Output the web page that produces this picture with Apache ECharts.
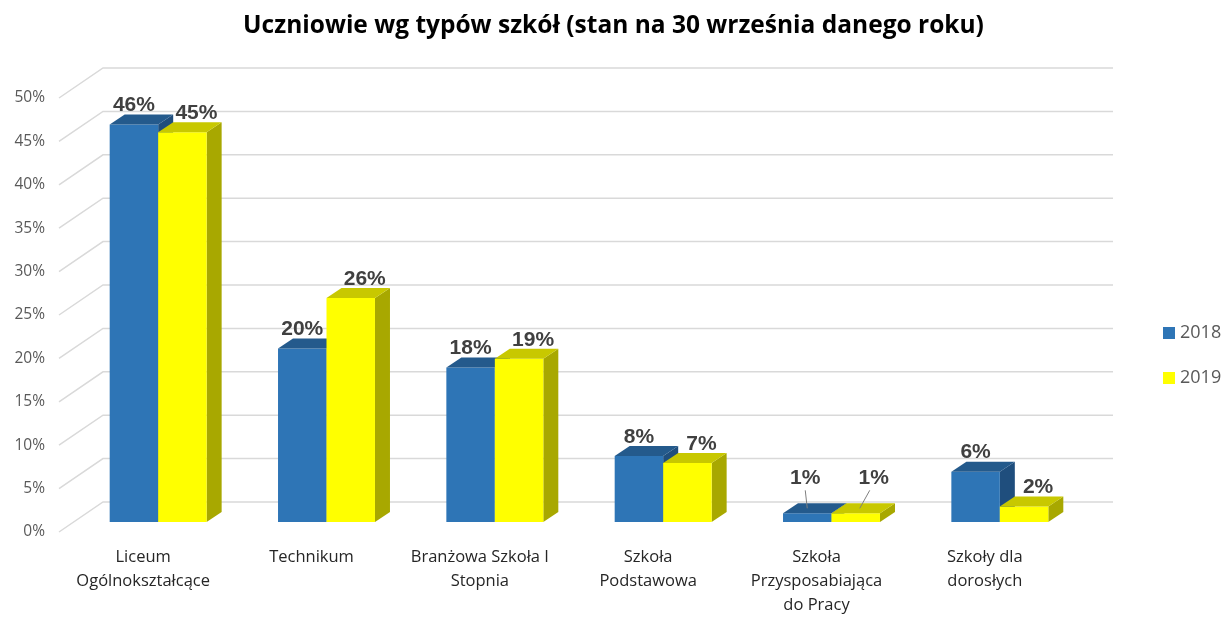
<!DOCTYPE html>
<html>
<head>
<meta charset="utf-8">
<title>Uczniowie wg typów szkół</title>
<script src="https://cdn.jsdelivr.net/npm/echarts@6/dist/echarts.min.js"></script>
<style>
  html, body { margin: 0; padding: 0; background: #fff; }
  #chart { width: 1227px; height: 617px; }
</style>
</head>
<body>
<div id="chart"></div>
<script>
// ---- dane ----
var categories = [
  'Liceum\nOgólnokształcące',
  'Technikum',
  'Branżowa Szkoła I\nStopnia',
  'Szkoła\nPodstawowa',
  'Szkoła\nPrzysposabiająca\ndo Pracy',
  'Szkoły dla\ndorosłych'
];
var years = ['2018', '2019'];
var values2018 = [45.8, 20, 17.8, 7.6, 1.0, 5.8];
var values2019 = [44.9, 25.8, 18.8, 6.8, 1.0, 1.8];
var yTicks = [0, 5, 10, 15, 20, 25, 30, 35, 40, 45, 50];

// ---- wygląd 3D ----
var DEPTH_X = 44, DEPTH_Y = -30;          // głębokość całej ściany
var BAR_DX = 15, BAR_DY = -10;            // głębokość słupka
var faces = [
  { front: '#2E75B6', top: '#245A8C', side: '#1F4E7D', labelDx: 0 },
  { front: '#FFFF00', top: '#C8C800', side: '#A8A800', labelDx: 14 }
];

function gridRender(params, api) {
  var cs = params.coordSys;
  var y = api.coord([0, api.value(0)])[1];
  return {
    type: 'polyline',
    shape: { points: [[cs.x, y], [cs.x + DEPTH_X, y + DEPTH_Y], [cs.x + cs.width + DEPTH_X, y + DEPTH_Y]] },
    style: { stroke: '#D9D9D9', lineWidth: 1.5, fill: null },
    silent: true
  };
}

function makeBarRender(s) {
  var f = faces[s];
  return function (params, api) {
    var cat = api.value(0), val = api.value(1);
    var base = api.coord([cat, 0]);
    var top = api.coord([cat, val]);
    var barW = api.size([1, 0])[0] * 0.288;
    var x0 = base[0] + (s === 0 ? -barW : 0) + BAR_DX;
    var yb = base[1] + BAR_DY;
    var yt = top[1] + BAR_DY;
    var x1 = x0 + barW;
    var children = [
      { type: 'polygon', shape: { points: [[x1, yt], [x1 + BAR_DX, yt + BAR_DY], [x1 + BAR_DX, yb + BAR_DY], [x1, yb]] },
        style: { fill: f.side } },
      { type: 'rect', shape: { x: x0, y: yt, width: barW, height: yb - yt }, style: { fill: f.front } },
      { type: 'polygon', shape: { points: [[x0, yt], [x1, yt], [x1 + BAR_DX, yt + BAR_DY], [x0 + BAR_DX, yt + BAR_DY]] },
        style: { fill: f.top } }
    ];
    var lx = x0 + barW / 2 + f.labelDx;
    var ly = yt + BAR_DY - 9;
    if (val < 1.5) {
      // podniesiona etykieta z linią odniesienia
      lx = x0 + barW / 2 + (s === 0 ? -2 : 18);
      ly = yt + BAR_DY - 25;
      children.push({
        type: 'line',
        shape: { x1: lx + (s === 0 ? 0 : -4), y1: ly + 12, x2: x0 + barW / 2 + (s === 0 ? 0 : 4), y2: yt + BAR_DY / 2 },
        style: { stroke: '#7F7F7F', lineWidth: 1 }
      });
    }
    children.push({
      type: 'text',
      style: {
        x: lx, y: ly,
        text: Math.round(val) + '%',
        fill: '#404040',
        font: 'bold 21px "Liberation Sans", Arial, sans-serif',
        align: 'center', verticalAlign: 'middle'
      }
    });
    return { type: 'group', children: children };
  };
}

var chart = echarts.init(document.getElementById('chart'));

var option = {
  animation: false,
  title: {
    text: 'Uczniowie wg typów szkół (stan na 30 września danego roku)',
    left: 'center',
    top: 9,
    textStyle: { fontFamily: '"Open Sans"', fontWeight: 'bold', fontSize: 24.5, color: '#000' }
  },
  legend: {
    data: years,
    orient: 'vertical',
    left: 1158,
    top: 319,
    itemGap: 27,
    itemWidth: 12,
    itemHeight: 12,
    icon: 'rect',
    textStyle: { fontFamily: '"Open Sans"', fontSize: 18, color: '#595959' }
  },
  grid: { left: 59, right: 158, top: 98, bottom: 84 },
  xAxis: {
    type: 'category',
    data: categories,
    axisLine: { show: false },
    axisTick: { show: false },
    axisLabel: {
      interval: 0,
      margin: 13,
      fontFamily: '"Open Sans"',
      fontSize: 16.5,
      lineHeight: 24,
      color: '#262626'
    }
  },
  yAxis: {
    type: 'value',
    min: 0,
    max: 50,
    interval: 5,
    axisLine: { show: false },
    axisTick: { show: false },
    splitLine: { show: false },
    axisLabel: {
      formatter: '{value}%',
      margin: 14,
      fontFamily: '"Open Sans"',
      fontSize: 15.5,
      color: '#595959'
    }
  },
  series: [
    {
      name: 'siatka',
      type: 'custom',
      renderItem: gridRender,
      data: yTicks.map(function (v) { return [v]; }),
      encode: { y: 0 },
      silent: true,
      z: 1
    },
    {
      name: years[0],
      type: 'custom',
      renderItem: makeBarRender(0),
      itemStyle: { color: faces[0].front },
      data: values2018.map(function (v, i) { return [i, v]; }),
      encode: { x: 0, y: 1 },
      z: 2
    },
    {
      name: years[1],
      type: 'custom',
      renderItem: makeBarRender(1),
      itemStyle: { color: faces[1].front },
      data: values2019.map(function (v, i) { return [i, v]; }),
      encode: { x: 0, y: 1 },
      z: 3
    }
  ]
};

chart.setOption(option);
window.addEventListener('resize', function () { chart.resize(); });
</script>
</body>
</html>
